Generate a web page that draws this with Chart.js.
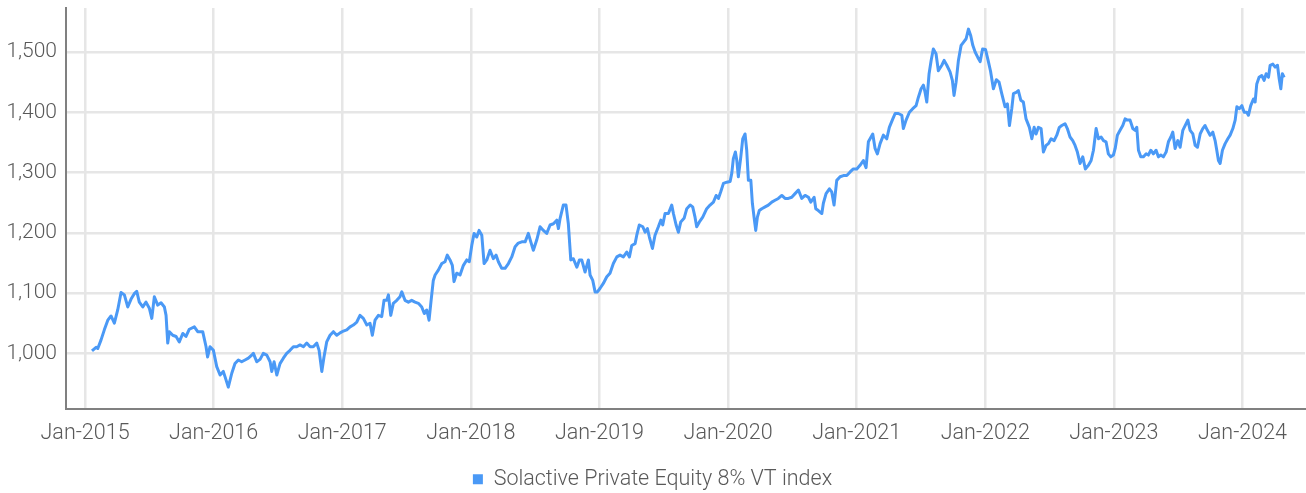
<!DOCTYPE html>
<html><head><meta charset="utf-8">
<script src="https://cdn.jsdelivr.net/npm/chart.js@4.4.1/dist/chart.umd.min.js"></script>
<style>html,body{margin:0;padding:0;background:#fff;}canvas{display:block;}</style>
</head><body>
<canvas id="c" width="1306" height="493"></canvas>
<script>
const seriesLabel = 'Solactive Private Equity 8% VT index';
const tickYears = [2015,2016,2017,2018,2019,2020,2021,2022,2023,2024];
const yTicks = [1000,1100,1200,1300,1400,1500];
// observation dates as decimal years
const dateYears = [
2015.054,2015.086,2015.099,2015.124,2015.150,2015.177,2015.202,2015.228,2015.254,2015.280,2015.306,2015.332,2015.358,2015.383,2015.402,2015.422,2015.449,2015.474,2015.500,2015.519,2015.539,2015.565,2015.591,2015.617,2015.630,2015.643,2015.656,2015.682,2015.708,2015.733,2015.760,2015.785,2015.811,2015.850,2015.876,2015.915,2015.941,2015.953,2015.972,2015.998,
2016.024,2016.050,2016.075,2016.089,2016.114,2016.141,2016.166,2016.192,2016.218,2016.244,2016.270,2016.296,2016.309,2016.335,2016.361,2016.386,2016.413,2016.439,2016.452,2016.470,2016.491,2016.516,2016.542,2016.568,2016.594,2016.620,2016.646,2016.672,2016.698,2016.724,2016.750,2016.775,2016.802,2016.820,2016.841,2016.858,2016.879,2016.905,2016.931,2016.957,2016.983,
2017.009,2017.035,2017.061,2017.086,2017.113,2017.138,2017.164,2017.191,2017.216,2017.234,2017.255,2017.281,2017.307,2017.325,2017.346,2017.359,2017.377,2017.397,2017.424,2017.449,2017.463,2017.488,2017.514,2017.540,2017.566,2017.592,2017.618,2017.638,2017.657,2017.675,2017.691,2017.708,2017.722,2017.747,2017.774,2017.799,2017.817,2017.838,2017.856,2017.869,2017.890,2017.916,2017.942,2017.968,2017.988,
2018.007,2018.025,2018.046,2018.064,2018.085,2018.103,2018.124,2018.149,2018.175,2018.196,2018.214,2018.240,2018.266,2018.292,2018.318,2018.344,2018.369,2018.396,2018.422,2018.447,2018.466,2018.486,2018.512,2018.538,2018.564,2018.590,2018.616,2018.642,2018.668,2018.681,2018.694,2018.719,2018.740,2018.758,2018.777,2018.797,2018.824,2018.844,2018.862,2018.888,2018.914,2018.927,2018.948,2018.966,2018.984,
2019.005,2019.030,2019.057,2019.082,2019.108,2019.135,2019.160,2019.186,2019.212,2019.233,2019.251,2019.277,2019.290,2019.310,2019.337,2019.355,2019.373,2019.388,2019.412,2019.432,2019.458,2019.477,2019.492,2019.510,2019.536,2019.562,2019.575,2019.596,2019.614,2019.632,2019.658,2019.679,2019.705,2019.725,2019.743,2019.756,2019.777,2019.803,2019.834,2019.860,2019.886,2019.907,2019.925,2019.943,2019.964,2019.990,
2020.016,2020.029,2020.041,2020.057,2020.068,2020.080,2020.099,2020.114,2020.132,2020.145,2020.158,2020.177,2020.189,2020.202,2020.215,2020.228,2020.243,2020.262,2020.288,2020.313,2020.340,2020.365,2020.391,2020.418,2020.443,2020.469,2020.495,2020.521,2020.547,2020.573,2020.599,2020.625,2020.643,2020.669,2020.682,2020.702,2020.729,2020.741,2020.762,2020.788,2020.806,2020.824,2020.845,2020.871,2020.897,2020.923,2020.949,2020.974,
2021.001,2021.026,2021.052,2021.073,2021.091,2021.125,2021.143,2021.161,2021.182,2021.208,2021.234,2021.254,2021.281,2021.299,2021.324,2021.351,2021.363,2021.384,2021.410,2021.436,2021.462,2021.480,2021.501,2021.519,2021.532,2021.545,2021.563,2021.579,2021.596,2021.617,2021.635,2021.662,2021.680,2021.701,2021.726,2021.744,2021.757,2021.773,2021.791,2021.812,2021.830,2021.851,2021.869,2021.887,2021.903,2021.921,2021.942,2021.960,2021.979,
2022.002,2022.022,2022.041,2022.063,2022.086,2022.107,2022.128,2022.154,2022.172,2022.188,2022.206,2022.219,2022.240,2022.257,2022.276,2022.296,2022.317,2022.343,2022.362,2022.380,2022.395,2022.413,2022.434,2022.452,2022.473,2022.491,2022.512,2022.535,2022.556,2022.576,2022.595,2022.620,2022.638,2022.659,2022.680,2022.698,2022.716,2022.737,2022.758,2022.778,2022.802,2022.823,2022.841,2022.862,2022.880,2022.901,2022.919,2022.939,2022.957,2022.976,2022.996,
2023.010,2023.027,2023.048,2023.069,2023.087,2023.105,2023.126,2023.147,2023.165,2023.178,2023.191,2023.209,2023.230,2023.251,2023.268,2023.287,2023.307,2023.328,2023.346,2023.365,2023.385,2023.406,2023.424,2023.443,2023.458,2023.476,2023.497,2023.515,2023.536,2023.554,2023.575,2023.593,2023.614,2023.632,2023.650,2023.671,2023.691,2023.709,2023.727,2023.748,2023.769,2023.787,2023.800,2023.813,2023.826,2023.844,2023.865,2023.886,2023.904,2023.925,2023.943,2023.956,2023.976,2023.995,
2024.013,2024.033,2024.046,2024.064,2024.085,2024.098,2024.111,2024.129,2024.150,2024.168,2024.184,2024.202,2024.215,2024.236,2024.254,2024.272,2024.285,2024.298,2024.310,2024.324
];
const indexValues = [
1004,1010,1008,1022,1039,1055,1062,1050,1072,1101,1097,1077,1090,1099,1103,1085,1077,1085,1075,1058,1094,1080,1084,1077,1063,1017,1036,1030,1028,1019,1033,1028,1040,1044,1036,1036,1011,994,1011,1005,
978,964,970,961,944,967,983,989,986,989,992,997,1000,986,990,1000,997,986,970,986,964,983,992,1000,1005,1011,1011,1014,1011,1017,1011,1011,1017,1005,970,994,1019,1030,1036,1030,1034,
1037,1039,1044,1047,1052,1063,1058,1047,1050,1030,1055,1063,1061,1088,1088,1097,1063,1083,1088,1094,1102,1088,1085,1088,1085,1083,1077,1066,1072,1055,1088,1121,1130,1138,1149,1152,1163,1155,1146,1119,1133,1130,1146,1155,1152,
1179,1199,1193,1204,1196,1149,1155,1171,1157,1163,1152,1141,1141,1149,1160,1177,1183,1185,1185,1199,1185,1171,1188,1210,1204,1199,1213,1215,1221,1207,1224,1246,1246,1215,1155,1157,1143,1155,1155,1135,1155,1130,1121,1102,1102,
1108,1116,1127,1133,1149,1160,1163,1160,1168,1160,1179,1182,1196,1213,1210,1201,1207,1193,1174,1196,1210,1221,1213,1232,1232,1246,1232,1213,1201,1218,1224,1240,1246,1243,1226,1210,1218,1226,1240,1246,1251,1262,1257,1268,1282,1284,
1285,1299,1323,1334,1320,1293,1326,1356,1364,1337,1287,1287,1249,1226,1204,1226,1237,1240,1243,1246,1251,1254,1257,1262,1257,1257,1259,1265,1271,1257,1262,1259,1251,1259,1240,1237,1232,1249,1265,1273,1268,1246,1287,1293,1295,1295,1301,1306,
1306,1312,1320,1308,1351,1364,1340,1331,1348,1362,1356,1375,1389,1398,1398,1395,1373,1387,1400,1406,1411,1425,1439,1445,1433,1417,1464,1486,1505,1497,1469,1478,1486,1478,1467,1453,1428,1450,1486,1511,1516,1522,1538,1527,1511,1500,1491,1484,1505,
1504,1486,1468,1439,1454,1450,1431,1409,1414,1378,1406,1431,1433,1436,1420,1417,1389,1375,1356,1375,1364,1375,1373,1334,1345,1348,1356,1353,1362,1375,1378,1381,1373,1359,1353,1345,1334,1315,1326,1306,1312,1320,1337,1373,1356,1359,1353,1351,1331,1326,1329,
1340,1362,1370,1378,1389,1387,1387,1373,1370,1375,1337,1326,1326,1331,1329,1337,1331,1337,1326,1329,1326,1334,1351,1359,1367,1340,1353,1342,1370,1378,1387,1370,1364,1345,1342,1364,1373,1378,1370,1362,1367,1353,1337,1320,1315,1337,1348,1356,1362,1373,1387,1409,1406,1411,
1400,1400,1395,1411,1422,1417,1447,1458,1461,1453,1464,1458,1478,1480,1475,1478,1456,1439,1464,1458
];

const lineColor = '#4a99f6';
const textColor = '#595959';
const gridColor = '#e6e6e6';
const axisColor = '#808080';
const fontFamily = "Roboto, 'Liberation Sans', sans-serif";

const points = dateYears.map((d, i) => ({ x: d, y: indexValues[i] }));

new Chart(document.getElementById('c'), {
  type: 'line',
  data: { datasets: [{
    label: seriesLabel,
    data: points,
    borderColor: lineColor,
    backgroundColor: lineColor,
    borderWidth: 3,
    pointRadius: 0,
    tension: 0,
    borderJoinStyle: 'round',
    fill: false
  }]},
  options: {
    responsive: false,
    animation: false,
    devicePixelRatio: 1,
    layout: { padding: { top: 8, right: 1, left: 0, bottom: -7 } },
    plugins: {
      tooltip: { enabled: false },
      legend: {
        position: 'bottom',
        labels: {
          boxWidth: 10, boxHeight: 10, padding: 10,
          color: textColor,
          font: { family: fontFamily, size: 21.5, weight: 300 },
          generateLabels: chart => chart.data.datasets.map((ds, i) => ({
            text: ds.label, fillStyle: lineColor, strokeStyle: lineColor,
            lineWidth: 0, datasetIndex: i, fontColor: textColor
          }))
        }
      }
    },
    scales: {
      x: {
        type: 'linear',
        min: 2014.852, max: 2024.486,
        afterBuildTicks: axis => { axis.ticks = tickYears.map(v => ({ value: v })); },
        afterFit: axis => { axis.height = 50; axis.paddingLeft = 0; axis.paddingRight = 0; },
        ticks: { color: textColor, font: { family: fontFamily, size: 21.5, weight: 300 },
                 padding: 12, maxRotation: 0, autoSkip: false,
                 callback: v => 'Jan-' + v },
        grid: { color: gridColor, lineWidth: 2.5, drawTicks: false, tickLength: 0 },
        border: { color: axisColor, width: 2 }
      },
      y: {
        min: 908.5, max: 1573,
        afterBuildTicks: axis => { axis.ticks = yTicks.map(v => ({ value: v })); },
        afterFit: axis => { axis.width = 66; axis.paddingTop = 0; axis.paddingBottom = 0; },
        ticks: { color: textColor, font: { family: fontFamily, size: 21, weight: 300 },
                 padding: 9, callback: v => v.toLocaleString('en-US') },
        grid: { color: gridColor, lineWidth: 2.5, drawTicks: false, tickLength: 0 },
        border: { color: axisColor, width: 2 }
      }
    }
  }
});
</script>
</body></html>
